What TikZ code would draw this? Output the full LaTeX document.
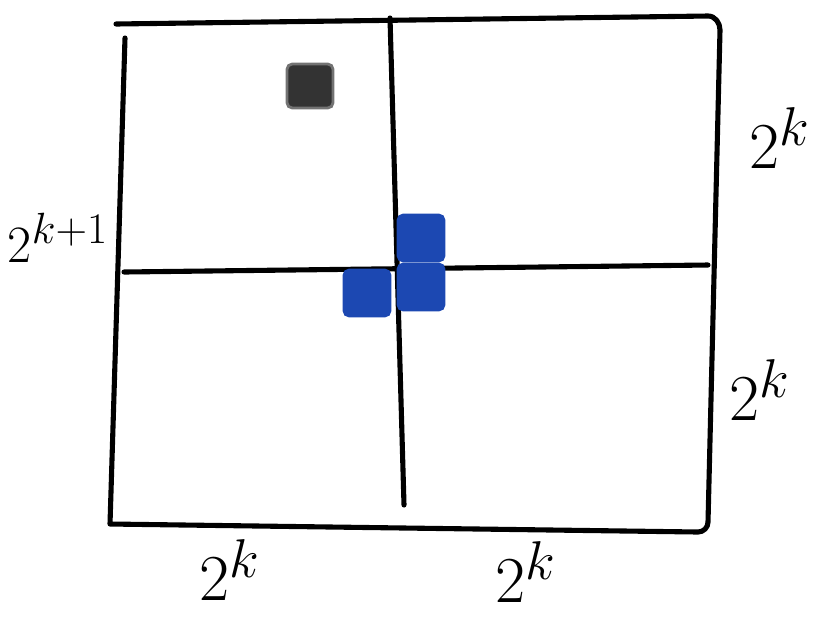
\documentclass[tikz,border=0pt]{standalone}
\usepackage{amsmath}
\definecolor{tileblue}{RGB}{28,72,178}
\tikzset{
  edge/.style={line width=2.9pt, line cap=round, line join=round},
  cell/.style={draw, line width=1.6pt, rounded corners=3pt},
  sizelabel/.style={font=\Huge, scale=1.5, inner sep=1pt}
}
\begin{document}
\begin{tikzpicture}[x=0.02cm, y=-0.02cm]
  \useasboundingbox (0,0) rectangle (830,620);

  % Board
  \draw[edge] (116,24) -- (708,16) to[out=0, in=90] (720,30) -- (708,522) to[out=-90, in=0] (698,532) -- (110,524) -- (125,38);

  % Quadrant split
  \draw[edge] (390,18) -- (404,505);
  \draw[edge] (124,272) -- (708,265);

  % Missing cell
  \draw[cell, black!55, fill=black!80] (287,64) rectangle (333,108);

  % L tile in the centre
  \foreach \x/\y in {398/215, 344/270, 398/264} {
    \draw[cell, tileblue, fill=tileblue] (\x,\y) rectangle ++(46,46);
  }

  % Sizes
  \node[sizelabel, scale=0.8] (left) at (58,238) {$2^{k+1}$};
  \node[sizelabel] (rightup) at (780,138) {$2^{k}$};
  \node[sizelabel] (rightdown) at (760,390) {$2^{k}$};
  \node[sizelabel] (bottomleft) at (230,570) {$2^{k}$};
  \node[sizelabel] (bottomright) at (526,572) {$2^{k}$};
\end{tikzpicture}
\end{document}
